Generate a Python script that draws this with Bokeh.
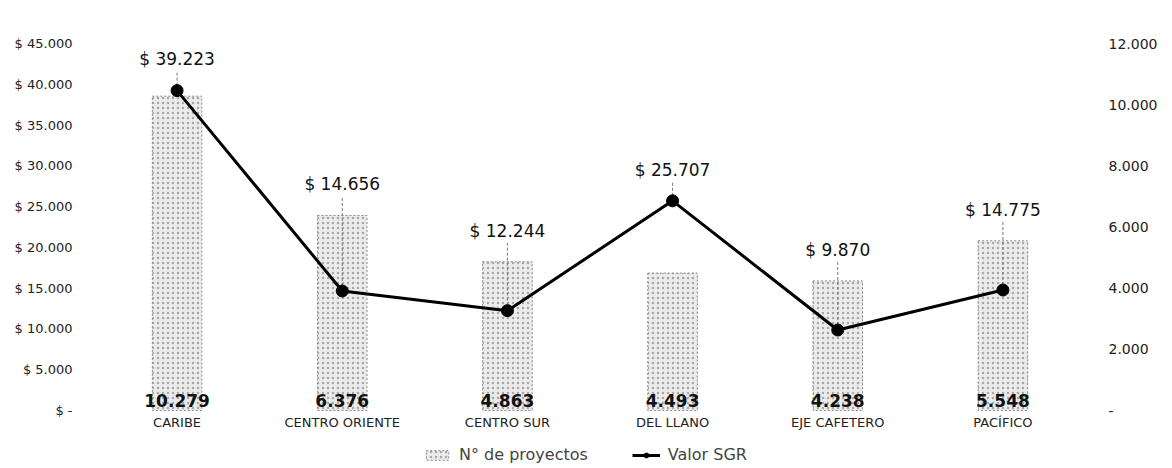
from bokeh.plotting import figure
from bokeh.models import (ColumnDataSource, Range1d, LinearAxis, FactorRange,
                          CustomJSTickFormatter, FixedTicker, Legend, LegendItem)
from bokeh.embed import file_html
from bokeh.resources import INLINE
from bokeh.core.properties import value

regiones = ["CARIBE", "CENTRO ORIENTE", "CENTRO SUR", "DEL LLANO", "EJE CAFETERO", "PACÍFICO"]
proyectos = [10279, 6376, 4863, 4493, 4238, 5548]
valor_sgr = [39223, 14656, 12244, 25707, 9870, 14775]
left_ticks = [0, 5000, 10000, 15000, 20000, 25000, 30000, 35000, 40000, 45000]
right_ticks = [0, 2000, 4000, 6000, 8000, 10000, 12000]

LEFT_MAX, RIGHT_MAX = 45000, 12000
FONT = "DejaVu Sans"

# geometry: value area 367 px tall, extra 56 px strip below zero for
# category labels and the legend
PLOT_H, STRIP_H = 367, 56
FRAME_H = PLOT_H + STRIP_H


def fmt(n):
    return f"{n:,}".replace(",", ".")


tops = [max(v, n * LEFT_MAX / RIGHT_MAX) for v, n in zip(valor_sgr, proyectos)]
src = ColumnDataSource(dict(
    x=regiones, n=proyectos, v=valor_sgr,
    n_lbl=[fmt(n) for n in proyectos],
    v_lbl=["$ " + fmt(v) for v in valor_sgr],
    lbl_y=[t + 2600 for t in tops],
    lead_y=[t + 2300 for t in tops],
))

p = figure(frame_width=991, frame_height=FRAME_H, output_backend="svg", toolbar_location=None,
           x_range=FactorRange(*regiones, range_padding=0),
           y_range=Range1d(-LEFT_MAX * STRIP_H / PLOT_H, LEFT_MAX),
           x_axis_location=None,
           min_border_left=94, min_border_right=71, min_border_top=43, min_border_bottom=2)
p.extra_y_ranges = {"right": Range1d(-RIGHT_MAX * STRIP_H / PLOT_H, RIGHT_MAX)}
p.outline_line_color = None
p.grid.visible = False

bars = p.vbar(x="x", top="n", width=0.3, source=src, y_range_name="right",
              fill_color="#ebebeb", hatch_pattern="dot", hatch_color="#a8a8a8",
              hatch_scale=5, hatch_weight=1,
              line_color="#8a8a8a", line_dash="2 2", line_width=1)

p.segment(x0="x", y0="v", x1="x", y1="lead_y", source=src,
          line_color="#777777", line_width=1, line_dash="3 2")

ln = p.line(x="x", y="v", source=src, line_color="black", line_width=3)
pts = p.scatter(x="x", y="v", source=src, size=12, fill_color="black", line_color="black")

p.text(x="x", y="lbl_y", text="v_lbl", source=src, text_align="center",
       text_baseline="bottom", text_font=value(FONT), text_font_size="17px",
       text_color="#111111")
p.text(x="x", y=0, text="n_lbl", source=src, y_range_name="right",
       text_align="center", text_baseline="bottom", y_offset=-4,
       text_font=value(FONT), text_font_size="17px", text_font_style="bold",
       text_color="#111111")

# category labels (x axis)
p.text(x="x", y=0, text="x", source=src, text_align="center",
       text_baseline="top", y_offset=4,
       text_font=value(FONT), text_font_size="13px", text_color="#222222")

ya = p.yaxis[0]
ya.ticker = FixedTicker(ticks=left_ticks)
ya.formatter = CustomJSTickFormatter(code="""
    if (tick == 0) return "$ -";
    return "$ " + tick.toString().replace(/\\B(?=(\\d{3})+(?!\\d))/g, ".");
""")
ya.axis_line_color = None
ya.major_tick_line_color = None
ya.minor_tick_line_color = None
ya.major_tick_out = 0
ya.major_label_text_font = FONT
ya.major_label_text_font_size = "13px"
ya.major_label_text_color = "#222222"
ya.major_label_standoff = 22

ra = LinearAxis(y_range_name="right", ticker=FixedTicker(ticks=right_ticks))
ra.formatter = CustomJSTickFormatter(code="""
    if (tick == 0) return "-";
    return tick.toString().replace(/\\B(?=(\\d{3})+(?!\\d))/g, ".");
""")
ra.axis_line_color = None
ra.major_tick_line_color = None
ra.minor_tick_line_color = None
ra.major_tick_out = 0
ra.major_label_text_font = FONT
ra.major_label_text_font_size = "14px"
ra.major_label_text_color = "#222222"
ra.major_label_standoff = 23
p.add_layout(ra, "right")

legend = Legend(items=[LegendItem(label="N° de proyectos", renderers=[bars]),
                       LegendItem(label="Valor SGR", renderers=[ln, pts])],
                orientation="horizontal", location=(329, 2),
                border_line_color=None, background_fill_alpha=0,
                label_text_font=FONT, label_text_font_size="16px",
                label_height=16, label_standoff=8, glyph_width=28, glyph_height=12,
                spacing=44, padding=0, margin=0)
p.add_layout(legend, "center")

open("out.html", "w").write(file_html(p, INLINE))
